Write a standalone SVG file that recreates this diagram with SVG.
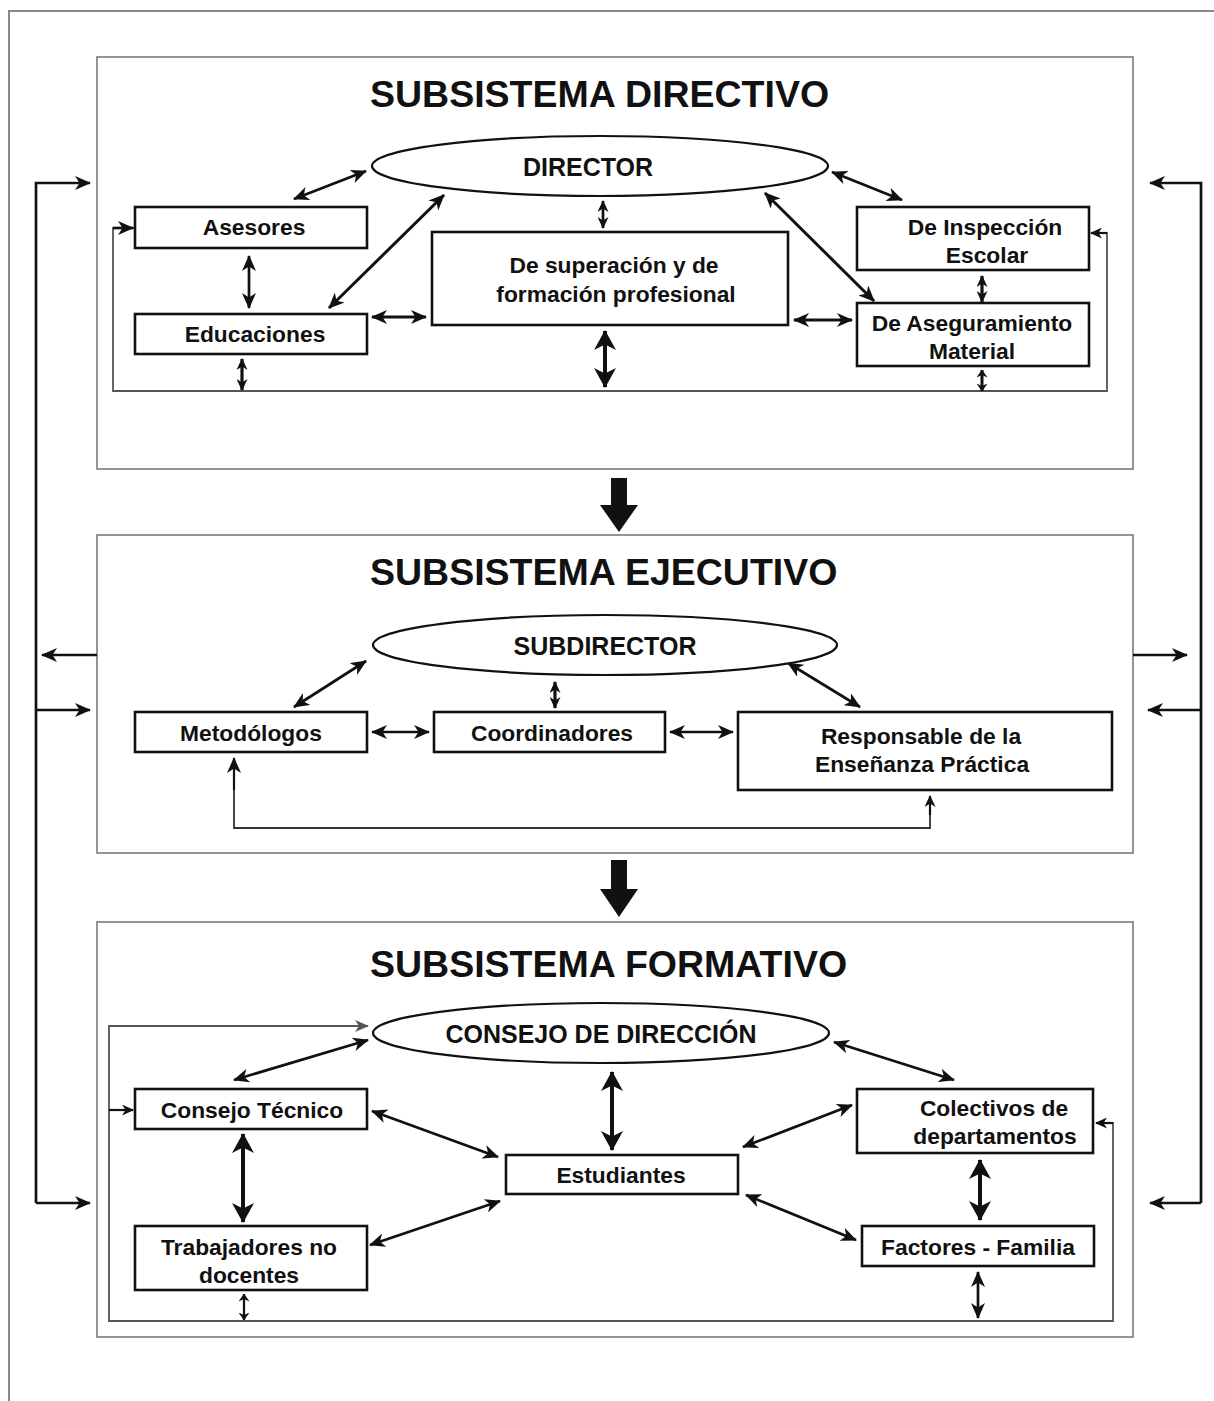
<svg xmlns="http://www.w3.org/2000/svg" width="1214" height="1401" viewBox="0 0 1214 1401">
<defs>
<style>
.frame{fill:none;stroke:#8a8a8a;stroke-width:2}
.sec{fill:#fff;stroke:#7a7a7a;stroke-width:1.6}
.node{fill:#fff;stroke:#111;stroke-width:2.6}
.ell{fill:#fff;stroke:#111;stroke-width:2.2}
.fb{fill:none;stroke:#555;stroke-width:1.8}
.ln{fill:none;stroke:#111;stroke-width:2.7}
.tk{fill:none;stroke:#111;stroke-width:4}
.title{font-family:"Liberation Sans",Arial,sans-serif;font-weight:bold;font-size:37.5px;fill:#111}
.big{font-family:"Liberation Sans",Arial,sans-serif;font-weight:bold;font-size:25px;fill:#111;text-anchor:middle}
.lbl{font-family:"Liberation Sans",Arial,sans-serif;font-weight:bold;font-size:22.8px;fill:#111;text-anchor:middle}
</style>
<marker id="a" viewBox="0 0 16 14" refX="15" refY="7" markerWidth="16" markerHeight="14" markerUnits="userSpaceOnUse" orient="auto-start-reverse"><path d="M0,0 L16,7 L0,14 L4.5,7 z" fill="#111"/></marker>
<marker id="m" viewBox="0 0 12 11" refX="11" refY="5.5" markerWidth="12" markerHeight="11" markerUnits="userSpaceOnUse" orient="auto-start-reverse"><path d="M0,0 L12,5.5 L0,11 L3.5,5.5 z" fill="#111"/></marker>
<marker id="s" viewBox="0 0 8 11" refX="7.5" refY="5.5" markerWidth="8" markerHeight="11" markerUnits="userSpaceOnUse" orient="auto-start-reverse"><path d="M0,0 L8,5.5 L0,11 L2.5,5.5 z" fill="#111"/></marker>
<marker id="b" viewBox="0 0 20 22" refX="19" refY="11" markerWidth="20" markerHeight="22" markerUnits="userSpaceOnUse" orient="auto-start-reverse"><path d="M0,0 L20,11 L0,22 L5.5,11 z" fill="#111"/></marker>
<marker id="g" viewBox="0 0 14 12" refX="13" refY="6" markerWidth="14" markerHeight="12" markerUnits="userSpaceOnUse" orient="auto"><path d="M0,0 L14,6 L0,12 L4,6 z" fill="#555"/></marker>
</defs>
<rect width="1214" height="1401" fill="#fff"/>
<path class="frame" d="M9,1401 V11 H1214"/>

<g id="sections">
<rect class="sec" x="97" y="57" width="1036" height="412"/>
<rect class="sec" x="97" y="535" width="1036" height="318"/>
<rect class="sec" x="97" y="922" width="1036" height="415"/>
<text class="title" x="370" y="107">SUBSISTEMA DIRECTIVO</text>
<text class="title" x="370" y="585">SUBSISTEMA EJECUTIVO</text>
<text class="title" x="370" y="977">SUBSISTEMA FORMATIVO</text>
</g>

<g id="connectors">
<!-- outer feedback -->
<path class="ln" d="M36,1203 V183 H90" marker-end="url(#a)"/>
<path class="ln" d="M36,710 H90" marker-end="url(#a)"/>
<path class="ln" d="M36,1203 H90" marker-end="url(#a)"/>
<path class="ln" d="M97,655 H42" marker-end="url(#a)"/>
<path class="ln" d="M1201,1203 V183 H1150" marker-end="url(#a)"/>
<path class="ln" d="M1201,710 H1148" marker-end="url(#a)"/>
<path class="ln" d="M1201,1203 H1150" marker-end="url(#a)"/>
<path class="ln" d="M1133,655 H1187" marker-end="url(#a)"/>
<!-- block arrows -->
<polygon points="611,478 627,478 627,505 638,505 619,532 600,505 611,505" fill="#111"/>
<polygon points="611,860 627,860 627,889 638,889 619,917 600,889 611,889" fill="#111"/>

<!-- directivo -->
<path class="fb" d="M135,228 H113 V391 H1107 V233 H1091"/>
<path class="ln" d="M113,228 H133" marker-end="url(#a)"/>
<path class="ln" style="stroke-width:2.2" d="M1107,233 H1091" marker-end="url(#m)"/>
<line class="ln" x1="294" y1="199" x2="366" y2="171" marker-start="url(#a)" marker-end="url(#a)"/>
<line class="ln" x1="249" y1="256" x2="249" y2="308" marker-start="url(#a)" marker-end="url(#a)"/>
<line class="ln" style="stroke-width:3" x1="329" y1="308" x2="444" y2="195" marker-start="url(#a)" marker-end="url(#a)"/>
<line class="ln" style="stroke-width:3.2" x1="372" y1="317" x2="426" y2="317" marker-start="url(#a)" marker-end="url(#a)"/>
<line class="ln" x1="603" y1="201" x2="603" y2="228" marker-start="url(#m)" marker-end="url(#m)"/>
<line class="tk" x1="605" y1="331" x2="605" y2="387" marker-start="url(#b)" marker-end="url(#b)"/>
<line class="ln" style="stroke-width:3.2" x1="242" y1="359" x2="242" y2="390" marker-start="url(#m)" marker-end="url(#m)"/>
<line class="ln" x1="832" y1="172" x2="902" y2="200" marker-start="url(#a)" marker-end="url(#a)"/>
<line class="ln" style="stroke-width:3" x1="765" y1="193" x2="874" y2="301" marker-start="url(#a)" marker-end="url(#a)"/>
<line class="ln" style="stroke-width:3.2" x1="794" y1="320" x2="852" y2="320" marker-start="url(#a)" marker-end="url(#a)"/>
<line class="ln" style="stroke-width:3.2" x1="982" y1="276" x2="982" y2="302" marker-start="url(#m)" marker-end="url(#m)"/>
<line class="ln" style="stroke-width:3" x1="982" y1="370" x2="982" y2="391" marker-start="url(#s)" marker-end="url(#s)"/>

<!-- ejecutivo -->
<path class="fb" style="stroke:#333" d="M234,760 V828 H930 V797"/>
<path class="ln" style="stroke-width:2.2" d="M234,790 V758" marker-end="url(#a)"/>
<path class="ln" style="stroke-width:2.2" d="M930,815 V796" marker-end="url(#m)"/>
<line class="ln" x1="294" y1="707" x2="366" y2="661" marker-start="url(#a)" marker-end="url(#a)"/>
<line class="ln" style="stroke-width:3.2" x1="555" y1="682" x2="555" y2="708" marker-start="url(#m)" marker-end="url(#m)"/>
<line class="ln" x1="372" y1="732" x2="429" y2="732" marker-start="url(#a)" marker-end="url(#a)"/>
<line class="ln" x1="670" y1="732" x2="733" y2="732" marker-start="url(#a)" marker-end="url(#a)"/>
<line class="ln" x1="788" y1="663" x2="860" y2="707" marker-start="url(#a)" marker-end="url(#a)"/>

<!-- formativo -->
<path class="fb" d="M368,1026 H109 V1321 H1113 V1123 H1098"/>
<path class="fb" d="M330,1026 H368" marker-end="url(#g)"/>
<path class="ln" style="stroke-width:2.2" d="M109,1110 H133" marker-end="url(#m)"/>
<path class="ln" style="stroke-width:2.2" d="M1113,1123 H1096" marker-end="url(#m)"/>
<line class="ln" x1="234" y1="1080" x2="368" y2="1040" marker-start="url(#a)" marker-end="url(#a)"/>
<line class="tk" x1="243" y1="1134" x2="243" y2="1222" marker-start="url(#b)" marker-end="url(#b)"/>
<line class="ln" x1="372" y1="1111" x2="498" y2="1157" marker-start="url(#a)" marker-end="url(#a)"/>
<line class="ln" x1="370" y1="1245" x2="500" y2="1201" marker-start="url(#a)" marker-end="url(#a)"/>
<line class="tk" x1="612" y1="1072" x2="612" y2="1150" marker-start="url(#b)" marker-end="url(#b)"/>
<line class="ln" x1="834" y1="1042" x2="954" y2="1080" marker-start="url(#a)" marker-end="url(#a)"/>
<line class="ln" x1="743" y1="1147" x2="852" y2="1105" marker-start="url(#a)" marker-end="url(#a)"/>
<line class="ln" x1="746" y1="1195" x2="856" y2="1240" marker-start="url(#a)" marker-end="url(#a)"/>
<line class="tk" x1="980" y1="1160" x2="980" y2="1220" marker-start="url(#b)" marker-end="url(#b)"/>
<line class="ln" x1="978" y1="1272" x2="978" y2="1318" marker-start="url(#a)" marker-end="url(#a)"/>
<line class="ln" style="stroke-width:2.2" x1="244" y1="1294" x2="244" y2="1320" marker-start="url(#s)" marker-end="url(#s)"/>
</g>

<g id="director"><ellipse class="ell" cx="600" cy="166" rx="228" ry="30"/><text class="big" x="588" y="176">DIRECTOR</text></g>
<g id="asesores"><rect class="node" x="135" y="207" width="232" height="41"/><text class="lbl" x="254" y="235">Asesores</text></g>
<g id="educaciones"><rect class="node" x="135" y="314" width="232" height="40"/><text class="lbl" x="255" y="342">Educaciones</text></g>
<g id="superacion"><rect class="node" x="432" y="232" width="356" height="93"/><text class="lbl" x="614" y="273">De superación y de</text><text class="lbl" x="616" y="302">formación profesional</text></g>
<g id="inspeccion"><rect class="node" x="857" y="207" width="232" height="63"/><text class="lbl" x="985" y="235">De Inspección</text><text class="lbl" x="987" y="263">Escolar</text></g>
<g id="aseguramiento"><rect class="node" x="857" y="303" width="232" height="63"/><text class="lbl" x="972" y="331">De Aseguramiento</text><text class="lbl" x="972" y="359">Material</text></g>

<g id="subdirector"><ellipse class="ell" cx="605" cy="645" rx="232" ry="30"/><text class="big" x="605" y="655">SUBDIRECTOR</text></g>
<g id="metodologos"><rect class="node" x="135" y="712" width="232" height="40"/><text class="lbl" x="251" y="741">Metodólogos</text></g>
<g id="coordinadores"><rect class="node" x="434" y="712" width="231" height="40"/><text class="lbl" x="552" y="741">Coordinadores</text></g>
<g id="responsable"><rect class="node" x="738" y="712" width="374" height="78"/><text class="lbl" x="921" y="744">Responsable de la</text><text class="lbl" x="922" y="772">Enseñanza Práctica</text></g>

<g id="consejo-direccion"><ellipse class="ell" cx="601" cy="1033" rx="228" ry="30"/><text class="big" x="601" y="1043">CONSEJO DE DIRECCIÓN</text></g>
<g id="consejo-tecnico"><rect class="node" x="135" y="1089" width="232" height="40"/><text class="lbl" x="252" y="1118">Consejo Técnico</text></g>
<g id="trabajadores"><rect class="node" x="135" y="1226" width="232" height="64"/><text class="lbl" x="249" y="1255">Trabajadores no</text><text class="lbl" x="249" y="1283">docentes</text></g>
<g id="estudiantes"><rect class="node" x="506" y="1155" width="232" height="39"/><text class="lbl" x="621" y="1183">Estudiantes</text></g>
<g id="colectivos"><rect class="node" x="857" y="1089" width="236" height="64"/><text class="lbl" x="994" y="1116">Colectivos de</text><text class="lbl" x="995" y="1144">departamentos</text></g>
<g id="factores"><rect class="node" x="862" y="1226" width="232" height="40"/><text class="lbl" x="978" y="1255">Factores - Familia</text></g>
</svg>
